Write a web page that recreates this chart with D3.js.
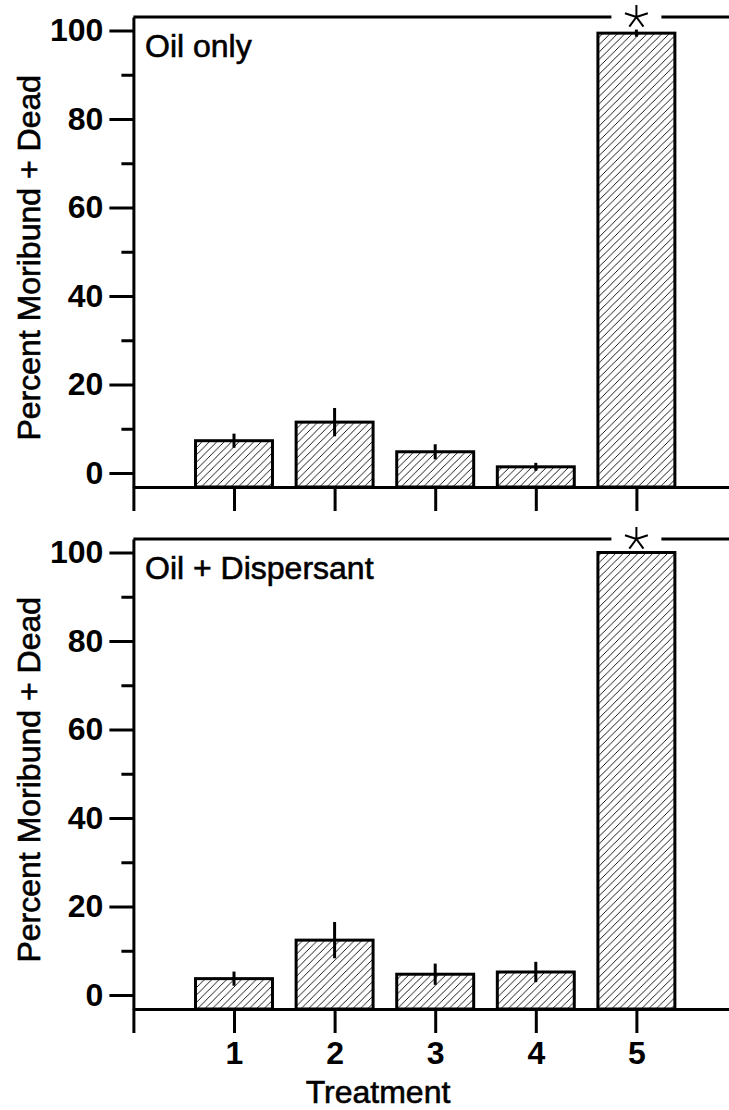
<!DOCTYPE html>
<html>
<head>
<meta charset="utf-8">
<script src="https://cdn.jsdelivr.net/npm/d3@7"></script>
<style>
  body { margin: 0; background: #fff; }
  text { font-family: "Liberation Sans", Helvetica, Arial, sans-serif; fill: #000; }
</style>
</head>
<body>
<div id="chart"></div>
<script>
"use strict";

// data
var treatments = [1, 2, 3, 4, 5];
var oilOnly = [7.3, 11.5, 4.8, 1.4, 99.4];
var oilOnlyErr = [1.6, 3.2, 1.7, 0.9, 0.8];
var oilDisp = [3.7, 12.4, 4.7, 5.2, 100];
var oilDispErr = [1.6, 4.1, 2.4, 2.3, 0];
var yTicks = [0, 20, 40, 60, 80, 100];
var yMinor = [10, 30, 50, 70, 90];
var starred = 5;

var W = 729, H = 1110;
var FONT = "'Liberation Sans', Helvetica, Arial, sans-serif";

var svg = d3.select("#chart")
    .append("svg")
    .attr("width", W)
    .attr("height", H);

// hatch fill ///
var s = 7.4;
svg.append("defs").append("pattern")
    .attr("id", "hatch")
    .attr("patternUnits", "userSpaceOnUse")
    .attr("width", s).attr("height", s)
    .append("path")
    .attr("d", "M-1,1L1,-1M0," + s + "L" + s + ",0M" + (s - 1) + "," + (s + 1) + "L" + (s + 1) + "," + (s - 1))
    .attr("stroke", "#000")
    .attr("stroke-width", 0.9);

var x = d3.scaleLinear().domain([0, 6]).range([133.4, 737]);
var barW = x(0.765) - x(0);

function panel(top, title, vals, errs, showLabels) {
    var y = d3.scaleLinear().domain([-3.16, 103.05]).range([top + 470, top]);
    var g = svg.append("g");
    var base = y.range()[0];

    // bars
    g.selectAll(".bar")
        .data(treatments)
        .enter()
        .append("rect")
        .attr("x", (d) => x(d) - barW / 2)
        .attr("y", (d, i) => y(vals[i]))
        .attr("width", barW)
        .attr("height", (d, i) => base - y(vals[i]))
        .attr("fill", "url(#hatch)")
        .attr("stroke", "#000")
        .attr("stroke-width", 3);

    // error bars
    g.selectAll(".err")
        .data(treatments.filter((d, i) => errs[i] > 0))
        .enter()
        .append("line")
        .attr("x1", (d) => x(d)).attr("x2", (d) => x(d))
        .attr("y1", (d) => y(vals[d - 1] - errs[d - 1]))
        .attr("y2", (d) => y(vals[d - 1] + errs[d - 1]))
        .attr("stroke", "#000")
        .attr("stroke-width", 3);

    // top frame
    g.append("line")
        .attr("x1", x(0)).attr("x2", x(6))
        .attr("y1", top).attr("y2", top)
        .attr("stroke", "#000").attr("stroke-width", 3);

    // y axis
    var ya = g.append("g")
        .attr("transform", "translate(" + x(0) + ",0)")
        .call(d3.axisLeft(y).tickValues(yTicks).tickSize(24).tickSizeOuter(0).tickPadding(6));
    ya.select(".domain").attr("stroke-width", 3);
    ya.selectAll(".tick line").attr("stroke-width", 3);
    ya.selectAll(".tick text")
        .attr("font-size", 32)
        .attr("font-family", FONT)
        .attr("font-weight", "bold");

    var ym = g.append("g")
        .attr("transform", "translate(" + x(0) + ",0)")
        .call(d3.axisLeft(y).tickValues(yMinor).tickSize(12).tickFormat(""));
    ym.select(".domain").remove();
    ym.selectAll(".tick line").attr("stroke-width", 3);

    // x axis
    var xa = g.append("g")
        .attr("transform", "translate(0," + base + ")")
        .call(d3.axisBottom(x).tickValues([0].concat(treatments)).tickSize(24).tickSizeOuter(0).tickPadding(8)
            .tickFormat((d) => (showLabels && d > 0) ? d : ""));
    xa.select(".domain").attr("stroke-width", 3);
    xa.selectAll(".tick line").attr("stroke-width", 3);
    xa.selectAll(".tick text")
        .attr("font-size", 32)
        .attr("font-family", FONT)
        .attr("font-weight", "bold");

    // y title
    g.append("text")
        .attr("transform", "translate(40," + (y(50) + 6) + ") rotate(-90)")
        .attr("text-anchor", "middle")
        .attr("font-size", 32)
        .attr("stroke", "#000").attr("stroke-width", 0.6)
        .text("Percent Moribund + Dead");

    // panel title
    g.append("text")
        .attr("x", 145).attr("y", top + 40)
        .attr("font-size", 32)
        .attr("stroke", "#000").attr("stroke-width", 0.6)
        .text(title);

    // significance star on the frame
    var cx = x(starred);
    g.append("rect")
        .attr("x", cx - 25).attr("y", top - 4)
        .attr("width", 50).attr("height", 8)
        .attr("fill", "#fff");
    var arms = d3.range(5).map((k) => -Math.PI / 2 + k * 2 * Math.PI / 5);
    g.append("path")
        .attr("d", arms.map((a) => "M" + cx + "," + top + "l" + (12 * Math.cos(a)) + "," + (12 * Math.sin(a))).join(""))
        .attr("stroke", "#000")
        .attr("stroke-width", 2)
        .attr("fill", "none");

    return y;
}

panel(17, "Oil only", oilOnly, oilOnlyErr, false);
panel(539, "Oil + Dispersant", oilDisp, oilDispErr, true);

svg.append("text")
    .attr("x", 378).attr("y", 1103)
    .attr("text-anchor", "middle")
    .attr("font-size", 32)
    .attr("stroke", "#000").attr("stroke-width", 0.6)
    .text("Treatment");
</script>
</body>
</html>
